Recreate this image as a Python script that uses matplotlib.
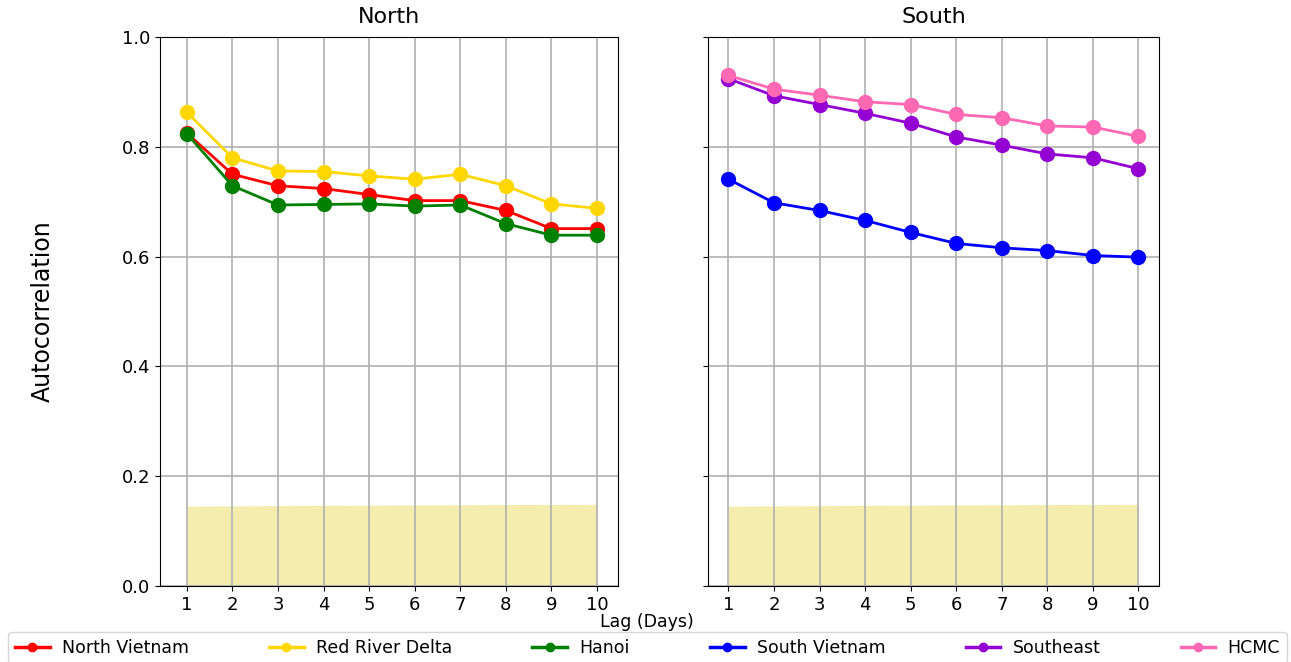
import numpy as np
import matplotlib.pyplot as plt
from matplotlib.lines import Line2D

# Lags (days)
lags = np.arange(1, 11)

# North region autocorrelations
north_vietnam = [0.825, 0.750, 0.729, 0.724, 0.713, 0.702, 0.702, 0.684, 0.651, 0.651]
red_river_delta = [0.863, 0.780, 0.756, 0.755, 0.747, 0.741, 0.750, 0.729, 0.696, 0.688]
hanoi = [0.824, 0.729, 0.694, 0.695, 0.696, 0.692, 0.694, 0.660, 0.639, 0.639]

# South region autocorrelations
south_vietnam = [0.741, 0.698, 0.684, 0.666, 0.644, 0.624, 0.616, 0.611, 0.602, 0.599]
southeast = [0.924, 0.893, 0.877, 0.861, 0.843, 0.818, 0.803, 0.787, 0.780, 0.760]
hcmc = [0.930, 0.905, 0.894, 0.882, 0.877, 0.859, 0.853, 0.838, 0.836, 0.819]

# Upper confidence bound
conf_bound = [0.1455, 0.146, 0.1465, 0.147, 0.1473, 0.1477, 0.148, 0.1484, 0.1487, 0.149]

north_series = [("North Vietnam", north_vietnam, "red"),
                ("Red River Delta", red_river_delta, "gold"),
                ("Hanoi", hanoi, "green")]
south_series = [("South Vietnam", south_vietnam, "blue"),
                ("Southeast", southeast, "darkviolet"),
                ("HCMC", hcmc, "hotpink")]

fig = plt.figure(figsize=(12.91, 6.62), dpi=100)
ax1 = fig.add_axes([0.1239, 0.1148, 0.3548, 0.8293])
ax2 = fig.add_axes([0.5484, 0.1148, 0.3493, 0.8293], sharey=ax1)

for ax, series, title in [(ax1, north_series, "North"), (ax2, south_series, "South")]:
    ax.fill_between(lags, 0, conf_bound, color="khaki", alpha=0.7, linewidth=0)
    for name, vals, col in series:
        ax.plot(lags, vals, color=col, marker="o", markersize=10, linewidth=2, label=name)
    ax.set_title(title, fontsize=16, pad=10)
    ax.set_xticks(lags)
    ax.set_ylim(0, 1.0)
    ax.grid(True, color="#b0b0b0", linewidth=1.2)
    ax.tick_params(labelsize=13)

ax1.set_xlim(0.41, 10.46)
ax2.set_xlim(0.55, 10.45)
ax2.tick_params(labelleft=False)
ax1.set_ylabel("Autocorrelation", fontsize=17, labelpad=48)

fig.text(0.501, 0.06, "Lag (Days)", ha="center", va="center", fontsize=12.5)

# Shared legend along the bottom edge
handles = [Line2D([0], [0], color=col, marker="o", markersize=6, linewidth=2.5, label=name)
           for name, _, col in north_series + south_series]
fig.legend(handles=handles, loc="upper center", ncol=6, mode="expand",
           bbox_to_anchor=(0.0062, -0.1, 0.9907, 0.1453), borderaxespad=0,
           fontsize=12.5, handletextpad=0.7, borderpad=0.4)

fig.savefig("out.png", dpi=100)
